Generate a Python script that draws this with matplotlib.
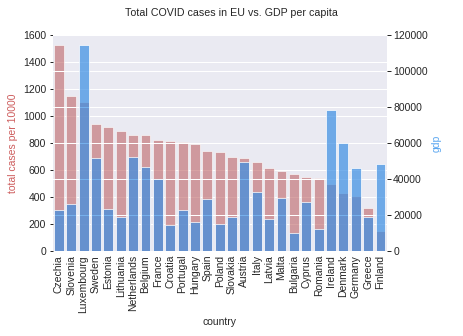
import matplotlib.pyplot as plt
import numpy as np

countries = ['Czechia', 'Slovenia', 'Luxembourg', 'Sweden', 'Estonia', 'Lithuania',
             'Netherlands', 'Belgium', 'France', 'Croatia', 'Portugal', 'Hungary',
             'Spain', 'Poland', 'Slovakia', 'Austria', 'Italy', 'Latvia', 'Malta',
             'Bulgaria', 'Cyprus', 'Romania', 'Ireland', 'Denmark', 'Germany',
             'Greece', 'Finland']
cases_per_10000 = [1528, 1150, 1106, 941, 918, 891, 862, 862, 825, 817, 810, 795,
                   743, 736, 699, 691, 661, 617, 595, 570, 550, 543, 496, 430, 410,
                   321, 148]
gdp = [22950, 25900, 114600, 51500, 23500, 19050, 52000, 46500, 40150, 14600,
       22950, 16300, 29050, 15200, 19050, 49600, 32950, 17600, 29600, 9800, 27400,
       12400, 78300, 60000, 46300, 19050, 48500]

plt.rcParams['font.family'] = ['Liberation Sans', 'DejaVu Sans']
plt.rcParams['font.size'] = 10.4
plt.rcParams['text.color'] = '#262626'
plt.rcParams['axes.labelcolor'] = '#262626'
plt.rcParams['xtick.color'] = '#262626'
plt.rcParams['ytick.color'] = '#262626'

fig = plt.figure(figsize=(463 / 72, 336 / 72), dpi=72)
ax = fig.add_axes([0.1138, 0.253, 0.7214, 0.643])
ax.set_facecolor('#eaeaf2')
for s in ax.spines.values():
    s.set_visible(False)
ax.set_axisbelow(True)
ax.yaxis.grid(True, color='white', linewidth=1)

x = np.arange(len(countries))
ax.bar(x, cases_per_10000, width=0.8, color='#bd6466', alpha=0.6,
       edgecolor='white', linewidth=1)
ax.set_ylim(0, 1600)
ax.set_xlim(-0.5, len(countries) - 0.5)
ax.set_xticks(x)
ax.set_xticklabels(countries, rotation=90)
ax.tick_params(axis='x', length=0, pad=4)
ax.tick_params(axis='y', length=3.5, width=1, pad=3)
ax.set_xlabel('country')
ax.set_ylabel('total cases per 10000', color='#cd5c5c', labelpad=5)

ax2 = ax.twinx()
for s in ax2.spines.values():
    s.set_visible(False)
ax2.set_axisbelow(True)
ax2.yaxis.grid(True, color='white', linewidth=1)
ax2.bar(x, gdp, width=0.8, color='#3a8ee3', alpha=0.7,
        edgecolor='white', linewidth=1)
ax2.set_ylim(0, 120000)
ax2.tick_params(axis='y', length=3.5, width=1, pad=3)
ax2.set_ylabel('gdp', color='#5aa6f0')

fig.suptitle('Total COVID cases in EU vs. GDP per capita', y=0.977, fontsize=10.6)
fig.savefig('out.png', dpi=72)
